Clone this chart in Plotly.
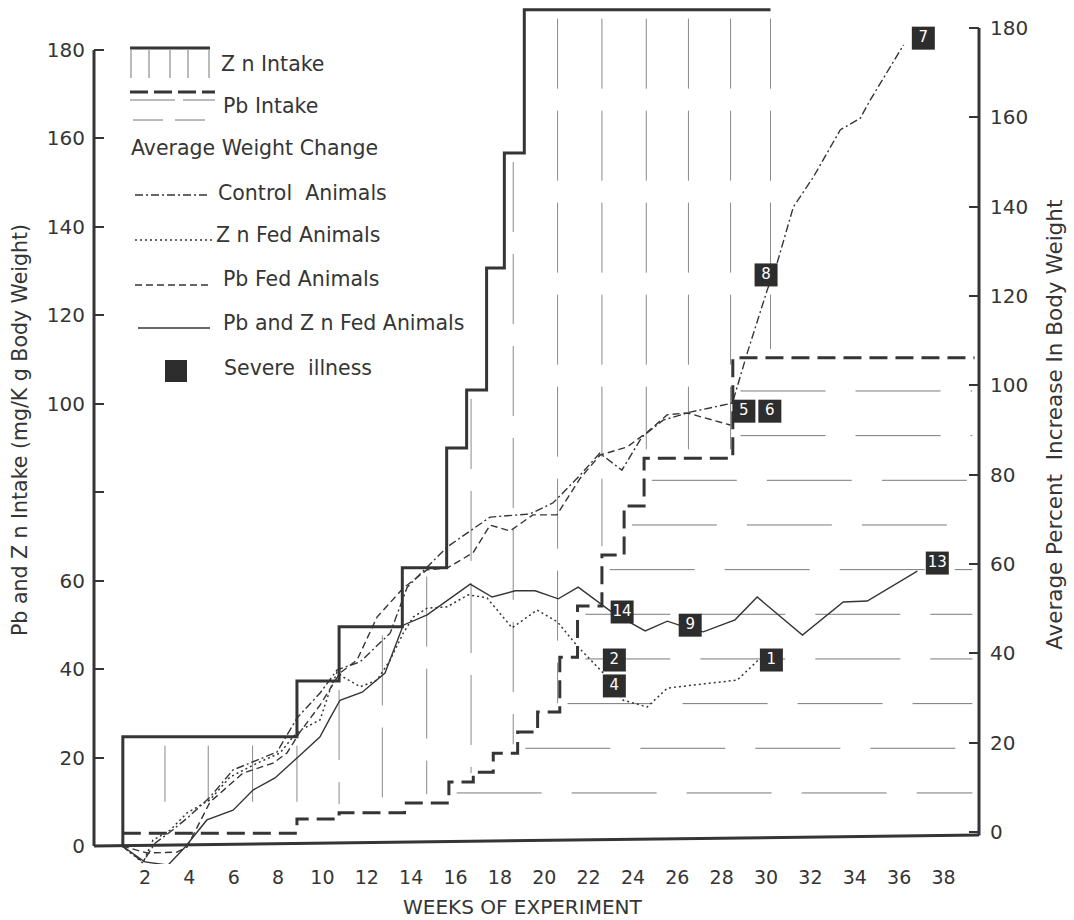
import numpy as np
import plotly.graph_objects as go

# ---------------- data ----------------
# Zn intake step function (left axis, mg/kg body weight)
zn_intake_weeks = [1.0, 1.0, 8.85, 10.75, 13.6, 15.6, 16.5, 17.4, 18.2, 19.1, 30.2]
zn_intake_vals = [0.0, 24.7, 37.3, 49.6, 62.9, 90.0, 103.1, 130.7, 156.7, 189.1, 189.1]

# Pb intake step function (left axis)
pb_intake_weeks = [1.0, 8.85, 10.75, 13.7, 15.7, 16.8, 17.7, 18.8, 19.7, 20.7, 21.5,
                   22.6, 23.6, 24.5, 28.5, 39.4]
pb_intake_vals = [2.9, 6.1, 7.5, 9.7, 14.5, 16.7, 21.0, 25.8, 30.3, 42.7, 54.3,
                  65.8, 76.9, 87.7, 110.4, 110.4]

# Average percent weight change (right axis)
ctrl_weeks = [0.96, 1.91, 2.45, 3.13, 3.9, 4.93, 5.97, 6.87, 7.95, 8.85, 9.89, 10.66,
              11.7, 13.05, 13.82, 14.72, 15.62, 17.56, 19.36, 20.4, 21.62, 22.5, 23.5,
              24.4, 25.36, 26.58, 28.48, 29.15, 30.05, 30.5, 31.23, 32.13, 33.35,
              34.25, 34.7, 36.2]
ctrl_vals = [-3.1, -6.7, -2.5, 0.0, 3.1, 7.8, 13.9, 15.7, 17.9, 25.5, 31.1, 36.3,
             38.1, 44.5, 54.8, 59.3, 63.8, 70.5, 71.2, 73.7, 79.9, 84.8, 81.0,
             88.4, 92.2, 94.0, 96.0, 107.2, 121.3, 127.4, 139.9, 146.6, 157.2,
             159.8, 163.9, 176.2]

znfed_weeks = [0.96, 1.91, 2.36, 3.13, 3.9, 4.93, 5.83, 7.05, 8.09, 8.67, 9.0, 9.89,
               10.34, 10.66, 10.93, 11.7, 12.46, 13.05, 13.64, 14.09, 14.72, 15.62,
               16.57, 17.42, 18.55, 19.68, 20.6, 21.53, 22.66, 23.56, 24.64, 25.55,
               26.72, 28.7, 29.65]
znfed_vals = [-3.1, -6.9, -1.8, 0.4, 4.3, 7.2, 12.3, 15.4, 17.7, 21.3, 22.8, 25.1,
              31.8, 35.8, 34.7, 32.5, 34.0, 38.5, 44.5, 48.1, 50.1, 50.4,
              53.1, 52.4, 45.7, 49.7, 47.0, 41.4, 35.6, 29.5, 28.0, 32.2,
              32.9, 34.0, 38.5]

pbfed_weeks = [0.96, 2.09, 3.44, 3.89, 4.93, 5.7, 6.42, 7.77, 8.4, 8.99, 9.89, 10.79,
               11.56, 12.46, 13.05, 13.64, 14.72, 15.62, 16.79, 17.56, 18.46, 19.49,
               20.57, 21.62, 22.52, 23.74, 24.64, 25.55, 26.45, 28.39]
pbfed_vals = [-3.1, -4.7, -4.5, -3.4, 6.7, 10.1, 13.2, 15.4, 17.7, 22.4, 28.4, 35.6,
              38.5, 48.1, 51.3, 54.6, 58.7, 59.1, 62.5, 68.7, 67.4, 71.0,
              71.0, 79.2, 84.4, 86.2, 89.5, 93.4, 93.8, 91.1]

pbzn_weeks = [0.96, 2.0, 3.04, 3.8, 4.79, 5.97, 6.87, 7.86, 8.99, 9.89, 10.34, 10.79,
              11.79, 12.82, 13.64, 14.72, 16.66, 17.65, 18.69, 19.59, 20.63, 21.53,
              23.11, 24.55, 25.55, 26.45, 27.17, 28.6, 29.6, 31.64, 33.48, 34.56, 36.82]
pbzn_vals = [-3.1, -6.7, -7.4, -3.4, 2.7, 4.9, 9.4, 12.1, 17.2, 21.3, 25.5, 29.5,
             31.3, 35.6, 46.3, 48.6, 55.5, 52.6, 54.0, 54.0, 52.2, 54.8,
             49.0, 45.0, 47.2, 45.7, 44.8, 47.5, 52.6, 44.1, 51.5, 51.7, 58.4]

# Severe illness markers (animal numbers)
ill_labels = ["5", "6", "8", "7", "2", "4", "1", "14", "9", "13"]
ill_weeks = [29.0, 30.17, 30.0, 37.09, 23.16, 23.16, 30.24, 23.51, 26.58, 37.72]
ill_vals = [94.2, 94.2, 124.7, 177.7, 38.5, 32.7, 38.5, 49.25, 46.3, 60.2]

x_ticks = list(range(2, 40, 2))
left_ticks = list(range(0, 181, 20))
left_ticktext = [str(v) if v != 80 else "" for v in left_ticks]
right_ticks = list(range(0, 181, 20))

# ---------------- layout geometry ----------------
W, H = 1074, 920
ML, MR, MT, MB = 94, 95, 6, 56
X_RANGE = [-0.3, 39.6]
Y_RANGE = [-4.07, 189.96]
Y2_RANGE = [-7.16, 184.9]
INK = "#353535"
FONT = "DejaVu Sans, Verdana, sans-serif"

PW = W - ML - MR
PH = H - MT - MB


def px(x):
    return (x - ML) / PW


def py(y):
    return (H - MB - y) / PH


def step_value(weeks, vals, w):
    idx = np.searchsorted(np.array(weeks), w, side="right") - 1
    idx = max(0, min(idx, len(vals) - 1))
    return vals[idx]


fig = go.Figure()

# ---- Zn region hatching (vertical broken lines between Pb and Zn intake) ----
hatch_weeks = [2.9, 4.85, 6.85, 8.85, 10.75, 12.7, 14.7, 16.7, 18.6, 20.6, 22.6,
               24.6, 26.5, 28.4, 30.2]
hx, hy = [], []
for hw in hatch_weeks:
    top = step_value(zn_intake_weeks, zn_intake_vals, hw - 1e-6) - 2
    bot = step_value(pb_intake_weeks, pb_intake_vals, hw) + 2
    if hw < 10:
        bot = max(bot, 10)
    hx += [hw, hw, None]
    hy += [top, bot, None]
fig.add_trace(go.Scatter(x=hx, y=hy, mode="lines", hoverinfo="skip",
                         line=dict(color="#8a8a8a", width=1, dash="70px,22px")))

# ---- Pb region hatching (horizontal broken lines right of Pb intake) ----
hx, hy = [], []
for k in range(10):
    lvl = 12 + 10.1 * k
    start = None
    for w, v in zip(pb_intake_weeks, pb_intake_vals):
        if v >= lvl + 1.5:
            start = w + 0.35
            break
    if start is None:
        continue
    hx += [start, 39.3, None]
    hy += [lvl, lvl, None]
fig.add_trace(go.Scatter(x=hx, y=hy, mode="lines", hoverinfo="skip",
                         line=dict(color="#7a7a7a", width=1, dash="85px,30px")))

# ---- intake step lines ----
fig.add_trace(go.Scatter(x=zn_intake_weeks, y=zn_intake_vals, mode="lines",
                         line=dict(color=INK, width=3, shape="hv"), name="Zn Intake"))
fig.add_trace(go.Scatter(x=pb_intake_weeks, y=pb_intake_vals, mode="lines",
                         line=dict(color=INK, width=3, shape="hv", dash="18px,8px"),
                         name="Pb Intake"))

# ---- weight change lines (right axis) ----
fig.add_trace(go.Scatter(x=ctrl_weeks, y=ctrl_vals, yaxis="y2", mode="lines",
                         line=dict(color=INK, width=1.4, dash="8px,3px,2px,3px"),
                         name="Control Animals"))
fig.add_trace(go.Scatter(x=znfed_weeks, y=znfed_vals, yaxis="y2", mode="lines",
                         line=dict(color=INK, width=1.5, dash="2px,3px"),
                         name="Zn Fed Animals"))
fig.add_trace(go.Scatter(x=pbfed_weeks, y=pbfed_vals, yaxis="y2", mode="lines",
                         line=dict(color=INK, width=1.4, dash="7px,4px"),
                         name="Pb Fed Animals"))
fig.add_trace(go.Scatter(x=pbzn_weeks, y=pbzn_vals, yaxis="y2", mode="lines",
                         line=dict(color=INK, width=1.4),
                         name="Pb and Zn Fed Animals"))

# ---- severe illness boxes ----
fig.add_trace(go.Scatter(x=ill_weeks, y=ill_vals, yaxis="y2", mode="markers+text",
                         text=ill_labels, textposition="middle center",
                         textfont=dict(color="white", size=15, family=FONT),
                         marker=dict(symbol="square", size=23, color="#2d2d2d",
                                     line=dict(width=0)),
                         name="Severe illness"))

# ---- axis lines as shapes (the scanned baseline is slightly tilted) ----
shapes = [
    dict(type="line", xref="paper", yref="y", x0=0, x1=1, y0=0, y1=2.5,
         line=dict(color=INK, width=3)),
    dict(type="line", xref="paper", yref="y", x0=0, x1=0, y0=0, y1=180,
         line=dict(color=INK, width=3)),
    dict(type="line", xref="paper", yref="y2", x0=1, x1=1, y0=-0.8, y1=180,
         line=dict(color=INK, width=3)),
]

# ---- custom legend ----
def seg(x0, y0, x1, y1, width=1, dash="solid", color=INK):
    return dict(type="line", xref="paper", yref="paper",
                x0=px(x0), y0=py(y0), x1=px(x1), y1=py(y1),
                line=dict(color=color, width=width, dash=dash))

shapes.append(seg(130, 48, 210, 48, width=3))
for lx in [131, 149, 170, 188, 209]:
    shapes.append(seg(lx, 50, lx, 78, width=1, color="#777"))
shapes.append(seg(130, 92, 215, 92, width=3, dash="18px,6px"))
shapes.append(seg(130, 100, 215, 100, width=1, dash="45px,8px", color="#777"))
shapes.append(seg(133, 120, 213, 120, width=1, dash="30px,12px", color="#777"))
shapes.append(seg(135, 195, 210, 195, width=1.3, dash="8px,3px,2px,3px"))
shapes.append(seg(135, 240, 212, 240, width=1.5, dash="2px,3px"))
shapes.append(seg(135, 285, 210, 285, width=1.4, dash="7px,4px"))
shapes.append(seg(138, 328, 210, 328, width=1.4))
shapes.append(dict(type="rect", xref="paper", yref="paper",
                   x0=px(165), x1=px(187), y0=py(382), y1=py(360),
                   fillcolor="#2d2d2d", line=dict(width=0)))

annotations = []


def label(text, x, y, size=20.5, **kw):
    annotations.append(dict(text=text, xref="paper", yref="paper", x=px(x), y=py(y),
                            xanchor="left", yanchor="middle", showarrow=False,
                            font=dict(family=FONT, size=size, color=INK), **kw))

label("Z n Intake", 219, 64)
label("Pb Intake", 221, 106)
label("Average Weight Change", 129, 148)
label("Control  Animals", 216, 193)
label("Z n Fed Animals", 214, 235)
label("Pb Fed Animals", 221, 279)
label("Pb and Z n Fed Animals", 221, 323)
label("Severe  illness", 222, 368)

# axis titles
annotations.append(dict(text="Pb and Z n Intake (mg/K g Body Weight)", xref="paper",
                        yref="paper", x=px(20), y=py(430), textangle=-90,
                        showarrow=False, xanchor="center", yanchor="middle",
                        font=dict(family=FONT, size=20.5, color=INK)))
annotations.append(dict(text="Average Percent  Increase In Body Weight", xref="paper",
                        yref="paper", x=px(1055), y=py(425), textangle=-90,
                        showarrow=False, xanchor="center", yanchor="middle",
                        font=dict(family=FONT, size=21.5, color=INK)))
annotations.append(dict(text="WEEKS OF EXPERIMENT", xref="paper", yref="paper",
                        x=px(523), y=py(907), showarrow=False, xanchor="center",
                        yanchor="middle", font=dict(family=FONT, size=20, color=INK)))

fig.update_layout(
    width=W, height=H,
    margin=dict(l=ML, r=MR, t=MT, b=MB, pad=0),
    paper_bgcolor="white", plot_bgcolor="white",
    showlegend=False,
    xaxis=dict(range=X_RANGE, tickvals=x_ticks, ticktext=[str(t) for t in x_ticks],
               showgrid=False, zeroline=False, showline=False, ticks="",
               tickfont=dict(family=FONT, size=19, color=INK)),
    yaxis=dict(range=Y_RANGE, tickvals=left_ticks, ticktext=left_ticktext,
               showgrid=False, zeroline=False, showline=False, ticks="inside",
               ticklen=10, tickwidth=2, tickcolor=INK, ticklabelstandoff=8,
               tickfont=dict(family=FONT, size=20, color=INK)),
    yaxis2=dict(range=Y2_RANGE, tickvals=right_ticks,
                ticktext=[str(v) for v in right_ticks], overlaying="y", side="right",
                showgrid=False, zeroline=False, showline=False, ticks="inside",
                ticklen=10, tickwidth=2, tickcolor=INK, ticklabelstandoff=10,
                tickfont=dict(family=FONT, size=20, color=INK)),
    shapes=shapes,
    annotations=annotations,
)

fig.write_html("out.html")
